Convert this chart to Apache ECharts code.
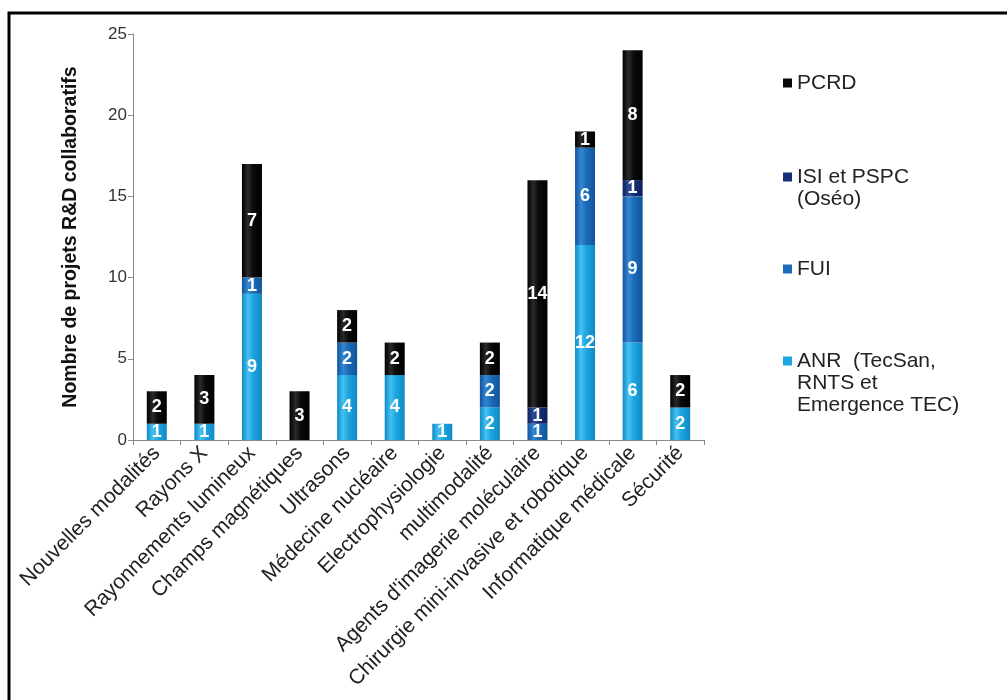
<!DOCTYPE html>
<html>
<head>
<meta charset="utf-8">
<script src="https://cdn.jsdelivr.net/npm/echarts@6/dist/echarts.min.js"></script>
<style>
  html, body { margin: 0; padding: 0; background: #fff; }
  #chart { width: 1007px; height: 700px; }
</style>
</head>
<body>
<div id="chart"></div>
<script>
// Domaines d'imagerie / technologies médicales
const categories = [
  'Nouvelles modalités', 'Rayons X', 'Rayonnements lumineux', 'Champs magnétiques',
  'Ultrasons', 'Médecine nucléaire', 'Electrophysiologie', 'multimodalité',
  "Agents d'imagerie moléculaire", 'Chirurgie mini-invasive et robotique',
  'Informatique médicale', 'Sécurité'
];

// Nombre de projets par source de financement
const anr  = [1, 1, 9, 0, 4, 4, 1, 2, 0, 12, 6, 2];
const fui  = [0, 0, 1, 0, 2, 0, 0, 2, 1, 6, 9, 0];
const isi  = [0, 0, 0, 0, 0, 0, 0, 0, 1, 0, 1, 0];
const pcrd = [2, 3, 7, 3, 2, 2, 0, 2, 14, 1, 8, 2];

const yTicks = [0, 5, 10, 15, 20, 25];

const seriesNames = {
  anr: 'ANR  (TecSan, RNTS et Emergence TEC)',
  fui: 'FUI',
  isi: 'ISI et PSPC (Oséo)',
  pcrd: 'PCRD'
};

// legend text, padded with blank lines so the marker sits on the first line
const legendText = {
  [seriesNames.pcrd]: 'PCRD',
  [seriesNames.isi]: '\nISI et PSPC\n(Oséo)',
  [seriesNames.fui]: 'FUI',
  [seriesNames.anr]: '\n\nANR  (TecSan,\nRNTS et\nEmergence TEC)'
};

// cylinder-like horizontal shading
function cylinder(edge, mid, light) {
  return {
    type: 'linear', x: 0, y: 0, x2: 1, y2: 0,
    colorStops: [
      { offset: 0, color: edge },
      { offset: 0.3, color: light },
      { offset: 0.55, color: mid },
      { offset: 1, color: edge }
    ]
  };
}

const palette = {
  anr: { solid: '#1ea6e0', fill: cylinder('#1089c4', '#1ea6e0', '#45c2f2') },
  fui: { solid: '#1b6cb9', fill: cylinder('#12549a', '#1b6cb9', '#3487d2') },
  isi: { solid: '#14307a', fill: cylinder('#0c1f58', '#14307a', '#2a4b9a') },
  pcrd: { solid: '#0a0a0a', fill: cylinder('#000000', '#0a0a0a', '#2a2a2a') }
};

const FONT = 'Liberation Sans, Arial, sans-serif';

function makeSeries(key, values) {
  return {
    name: seriesNames[key],
    type: 'bar',
    stack: 'total',
    barWidth: 20,
    data: values,
    itemStyle: { color: palette[key].fill },
    label: {
      show: true,
      position: 'inside',
      color: '#ffffff',
      fontFamily: FONT,
      fontWeight: 'bold',
      fontSize: 18,
      formatter: p => (p.value ? String(p.value) : '')
    },
    emphasis: { disabled: true }
  };
}

function legendAt(key, top) {
  return {
    data: [{ name: seriesNames[key], itemStyle: { color: palette[key].solid } }],
    orient: 'vertical',
    left: 783,
    top: top,
    padding: 0,
    icon: 'rect',
    itemWidth: 9,
    itemHeight: 9,
    itemGap: 0,
    formatter: n => legendText[n],
    textStyle: {
      fontFamily: FONT,
      fontSize: 21,
      lineHeight: 22,
      color: '#222'
    }
  };
}

const chart = echarts.init(document.getElementById('chart'), null, { renderer: 'canvas' });

chart.setOption({
  animation: false,
  backgroundColor: '#ffffff',
  textStyle: { fontFamily: FONT },
  graphic: [{
    type: 'rect',
    shape: { x: 9, y: 13, width: 1200, height: 900 },
    style: { fill: null, stroke: '#000', lineWidth: 3 },
    silent: true
  }],
  grid: { left: 133, right: 303, top: 34, bottom: 260 },
  legend: [
    legendAt('pcrd', 72),
    legendAt('isi', 144),
    legendAt('fui', 258),
    legendAt('anr', 306)
  ],
  xAxis: {
    type: 'category',
    data: categories,
    axisLine: { lineStyle: { color: '#8a8a8a', width: 1 } },
    axisTick: { show: true, length: 5, lineStyle: { color: '#8a8a8a' } },
    axisLabel: {
      interval: 0,
      rotate: 45,
      margin: 10,
      fontSize: 21,
      color: '#222',
      fontFamily: FONT
    }
  },
  yAxis: {
    type: 'value',
    min: yTicks[0],
    max: yTicks[yTicks.length - 1],
    interval: yTicks[1] - yTicks[0],
    name: 'Nombre de projets R&D collaboratifs',
    nameLocation: 'middle',
    nameGap: 52,
    nameTextStyle: {
      fontSize: 19.5,
      fontWeight: 'bold',
      color: '#111',
      fontFamily: FONT
    },
    axisLine: { show: true, lineStyle: { color: '#8a8a8a', width: 1 } },
    axisTick: { show: true, length: 5, lineStyle: { color: '#8a8a8a' } },
    splitLine: { show: false },
    axisLabel: {
      margin: 6,
      fontSize: 17,
      color: '#333',
      fontFamily: FONT
    }
  },
  series: [
    makeSeries('anr', anr),
    makeSeries('fui', fui),
    makeSeries('isi', isi),
    makeSeries('pcrd', pcrd)
  ]
});
</script>
</body>
</html>
